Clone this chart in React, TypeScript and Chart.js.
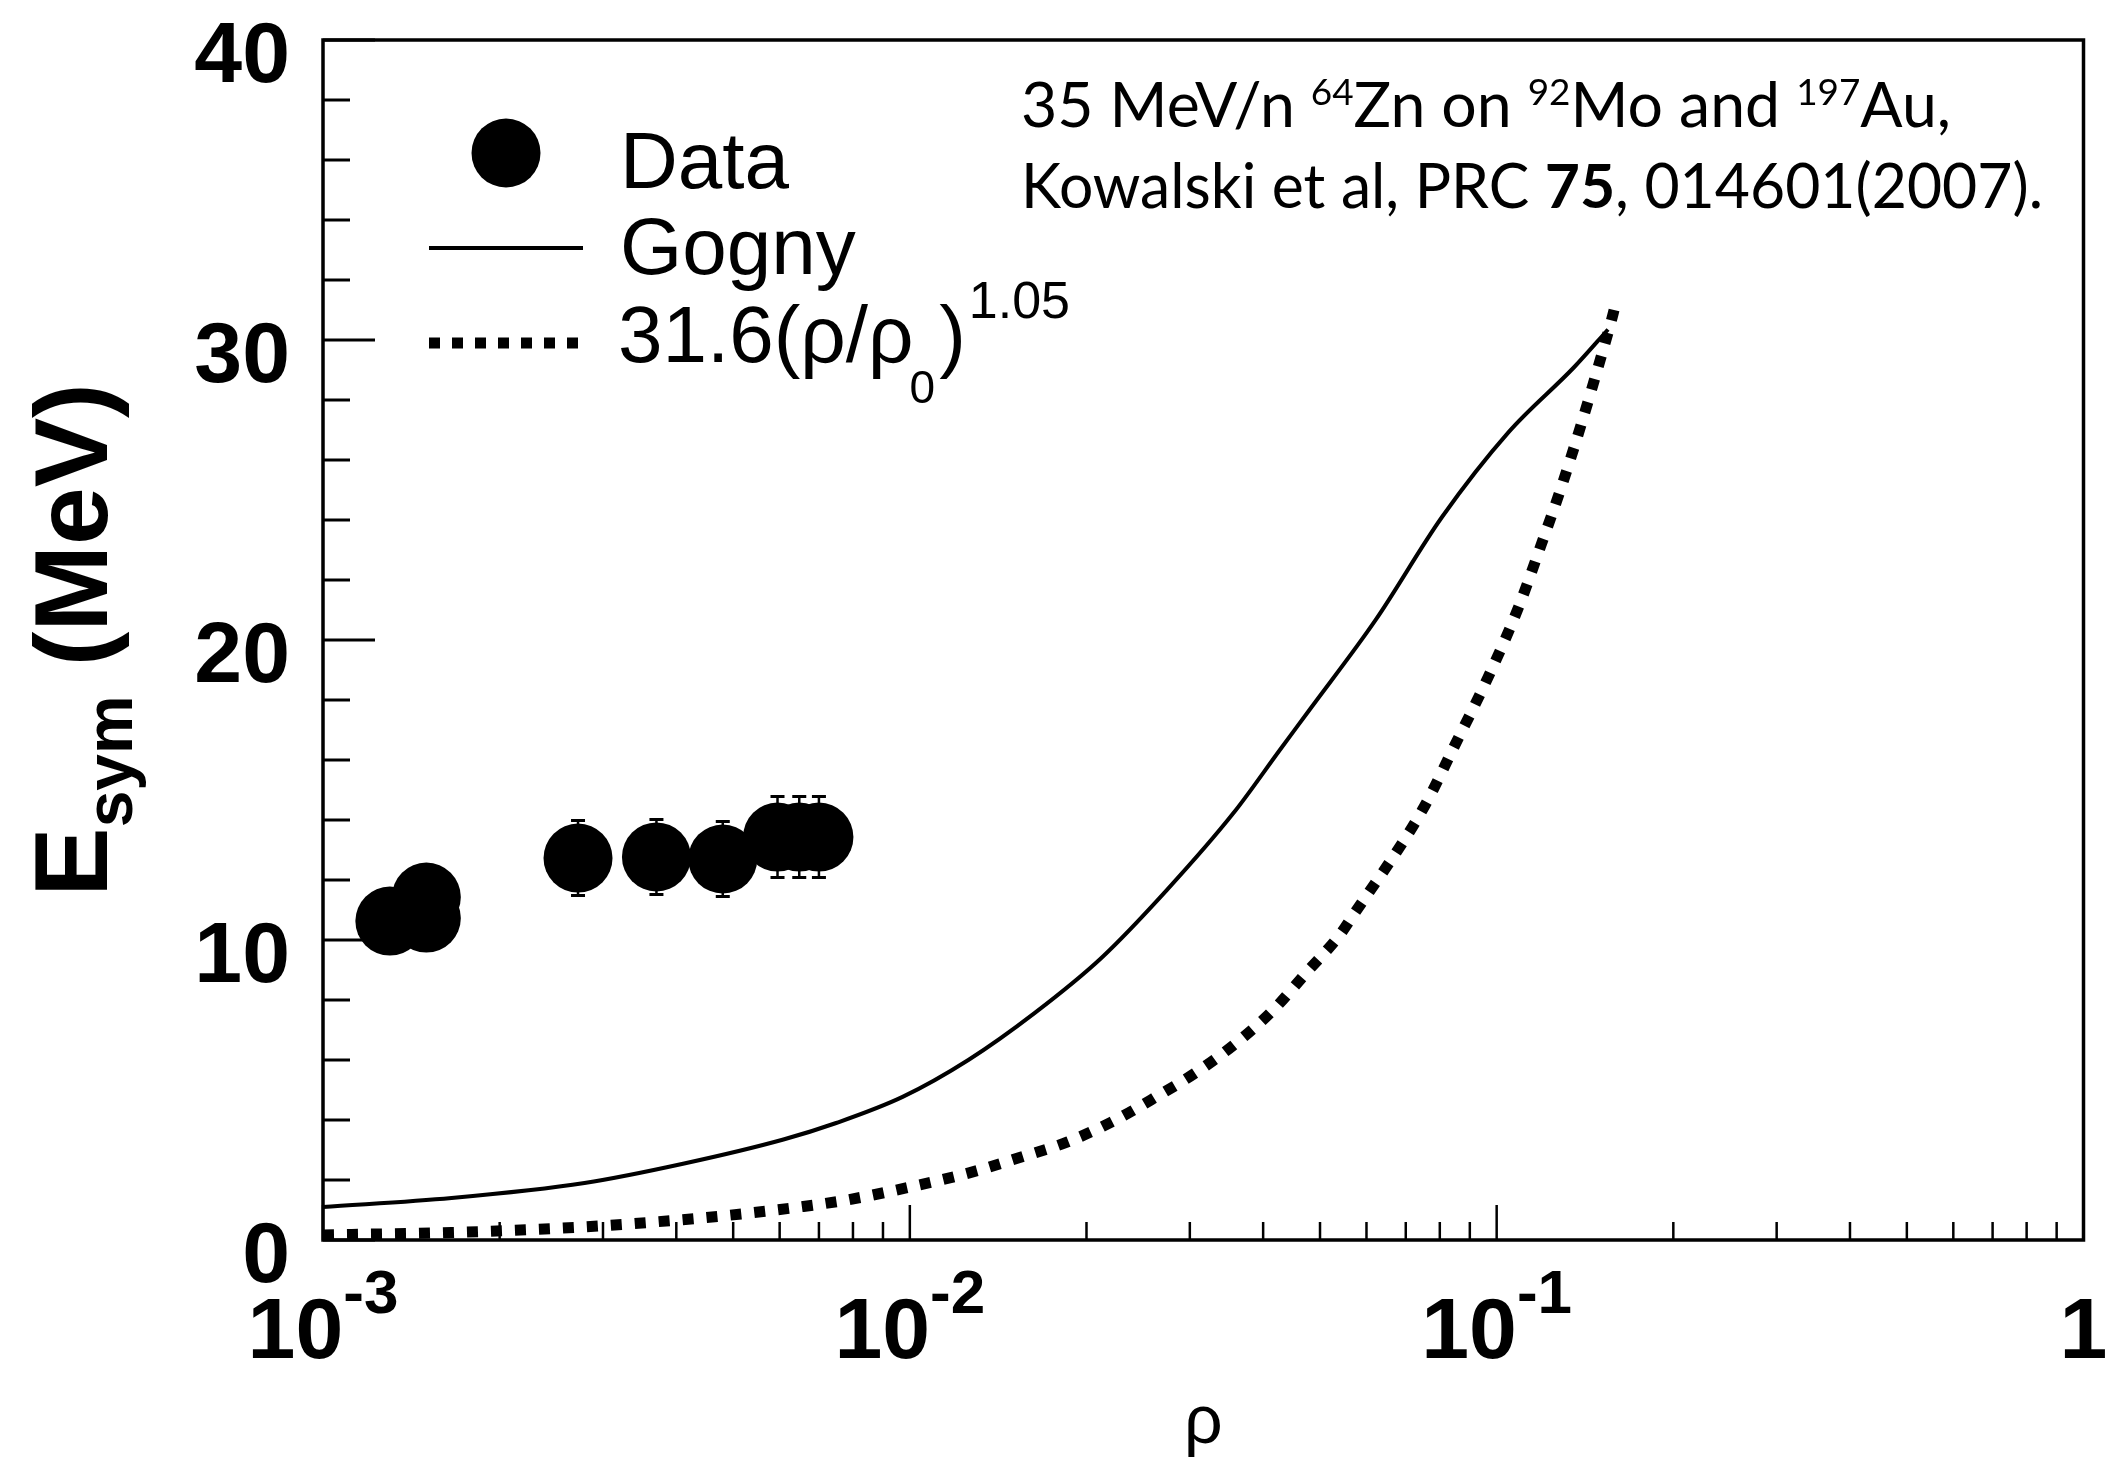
import React, { useEffect, useRef } from "react";
import { Chart, registerables } from "chart.js";

Chart.register(...registerables);

// ---------------- data ----------------
const dataRho = [0.0013, 0.0015, 0.0015, 0.00272, 0.0037, 0.0048, 0.00595, 0.00648, 0.007];
const dataEsym = [10.63, 11.43, 10.73, 12.73, 12.77, 12.7, 13.43, 13.43, 13.43];
const dataErr = [1.0, 1.0, 1.0, 1.25, 1.25, 1.25, 1.35, 1.35, 1.35];

const goganyRho = [0.001, 0.001656, 0.00279, 0.004125, 0.00609, 0.00749, 0.00972, 0.01258, 0.01633, 0.0212, 0.02743, 0.0356, 0.0428, 0.0481, 0.0622, 0.0807, 0.1048, 0.1356, 0.1548];
const goganyEsym = [1.1, 1.4, 1.9, 2.55, 3.35, 3.9, 4.77, 6.0, 7.57, 9.4, 11.67, 14.23, 16.36, 17.7, 20.67, 24.1, 26.93, 29.1, 30.35];

const powRho = [0.001, 0.001656, 0.002446, 0.002972, 0.00361, 0.00439, 0.005335, 0.00648, 0.00779, 0.01035, 0.01258, 0.01529, 0.01857, 0.02205, 0.02607, 0.03083, 0.036, 0.04163, 0.04733, 0.05404, 0.05684, 0.0747, 0.0849, 0.0969, 0.109, 0.1192, 0.1289, 0.1394, 0.1489, 0.1566, 0.1585];
const powEsym = [0.17, 0.25, 0.38, 0.47, 0.59, 0.73, 0.9, 1.1, 1.33, 1.83, 2.23, 2.73, 3.27, 3.93, 4.73, 5.6, 6.57, 7.67, 8.9, 10.17, 10.8, 14.33, 16.5, 18.8, 21.1, 23.2, 25.1, 27.2, 29.1, 30.6, 31.0];

const yTickValues = [0, 10, 20, 30, 40];
const yTickLabels = ["0", "10", "20", "30", "40"];
const xTickValues = [0.001, 0.01, 0.1, 1];
const xTickBase = ["10", "10", "10", "1"];
const xTickExp = ["-3", "-2", "-1", ""];

const legendLabels = ["Data", "Gogny"];
const formulaMain = "31.6(ρ/ρ";
const formulaSub = "0";
const formulaClose = ")";
const formulaSup = "1.05";

const yTitleMain = "E";
const yTitleSub = "sym";
const yTitleRest = " (MeV)";
const xTitle = "ρ";

// ---------------- drawing helpers ----------------
const HELV = "'Liberation Sans', Arial, Helvetica, sans-serif";
const GILL = "Lato, 'Open Sans', sans-serif";

type Seg = { t: string; font: string; dy: number };

function drawRich(ctx: CanvasRenderingContext2D, x: number, baseline: number, segs: Seg[], targetWidth: number) {
  let total = 0;
  for (const s of segs) {
    ctx.font = s.font;
    total += ctx.measureText(s.t).width;
  }
  const sx = targetWidth / total;
  ctx.save();
  ctx.translate(x, baseline);
  ctx.scale(sx, 1);
  ctx.textAlign = "left";
  ctx.textBaseline = "alphabetic";
  let cx = 0;
  for (const s of segs) {
    ctx.font = s.font;
    ctx.fillText(s.t, cx, s.dy);
    cx += ctx.measureText(s.t).width;
  }
  ctx.restore();
}

const rootStyle = {
  id: "rootStyle",
  beforeDatasetsDraw(chart: any) {
    const ctx: CanvasRenderingContext2D = chart.ctx;
    const xs = chart.scales.x;
    const ys = chart.scales.y;
    ctx.save();
    ctx.strokeStyle = "#000";
    for (let i = 0; i < dataRho.length; i++) {
      const px = xs.getPixelForValue(dataRho[i]);
      const top = ys.getPixelForValue(dataEsym[i] + dataErr[i]);
      const bot = ys.getPixelForValue(dataEsym[i] - dataErr[i]);
      ctx.lineWidth = 2.5;
      ctx.beginPath();
      ctx.moveTo(px, top);
      ctx.lineTo(px, bot);
      ctx.stroke();
      ctx.lineWidth = 3;
      ctx.beginPath();
      ctx.moveTo(px - 7, top);
      ctx.lineTo(px + 7, top);
      ctx.moveTo(px - 7, bot);
      ctx.lineTo(px + 7, bot);
      ctx.stroke();
    }
    ctx.restore();
  },
  afterDraw(chart: any) {
    const ctx: CanvasRenderingContext2D = chart.ctx;
    const xs = chart.scales.x;
    const ys = chart.scales.y;
    const a = chart.chartArea;
    ctx.save();
    ctx.strokeStyle = "#000";
    ctx.fillStyle = "#000";

    // frame
    ctx.lineWidth = 3.5;
    ctx.strokeRect(a.left, a.top, a.right - a.left, a.bottom - a.top);

    // y ticks
    ctx.lineWidth = 3;
    for (let v = 0; v <= 40; v += 2) {
      const py = ys.getPixelForValue(v);
      const len = v % 10 === 0 ? 52 : 27;
      ctx.beginPath();
      ctx.moveTo(a.left, py);
      ctx.lineTo(a.left + len, py);
      ctx.stroke();
    }
    // x ticks
    ctx.lineWidth = 2.5;
    for (let d = -3; d <= -1; d++) {
      for (let m = 1; m <= 9; m++) {
        const v = m * Math.pow(10, d);
        const px = xs.getPixelForValue(v);
        const len = m === 1 ? 35 : 18;
        ctx.beginPath();
        ctx.moveTo(px, a.bottom);
        ctx.lineTo(px, a.bottom - len);
        ctx.stroke();
      }
    }

    // y tick labels
    ctx.font = `bold 86px ${HELV}`;
    ctx.textAlign = "right";
    ctx.textBaseline = "alphabetic";
    for (let i = 0; i < yTickValues.length; i++) {
      const py = ys.getPixelForValue(yTickValues[i]);
      ctx.fillText(yTickLabels[i], a.left - 33, py + 42);
    }

    // x tick labels
    ctx.textAlign = "left";
    for (let i = 0; i < xTickValues.length; i++) {
      const px = xs.getPixelForValue(xTickValues[i]);
      ctx.font = `bold 86px ${HELV}`;
      const wb = ctx.measureText(xTickBase[i]).width;
      ctx.font = `bold 62px ${HELV}`;
      const we = xTickExp[i] ? ctx.measureText(xTickExp[i]).width : 0;
      const x0 = px - (wb + we) / 2;
      ctx.font = `bold 86px ${HELV}`;
      ctx.fillText(xTickBase[i], x0, 1358);
      if (xTickExp[i]) {
        ctx.font = `bold 62px ${HELV}`;
        ctx.fillText(xTickExp[i], x0 + wb, 1313);
      }
    }

    // x title
    ctx.font = `68px ${HELV}`;
    ctx.textAlign = "center";
    ctx.fillText(xTitle, (a.left + a.right) / 2, 1443);

    // y title (rotated)
    {
      const fMain = `bold 104px ${HELV}`;
      const fSub = `bold 66px ${HELV}`;
      ctx.font = fMain;
      const w1 = ctx.measureText(yTitleMain).width;
      const w3 = ctx.measureText(yTitleRest).width;
      ctx.font = fSub;
      const w2 = ctx.measureText(yTitleSub).width;
      const W = w1 + w2 + w3;
      ctx.save();
      ctx.translate(107, 640);
      ctx.rotate(-Math.PI / 2);
      ctx.textAlign = "left";
      let cx = -W / 2;
      ctx.font = fMain;
      ctx.fillText(yTitleMain, cx, 0);
      cx += w1;
      ctx.font = fSub;
      ctx.fillText(yTitleSub, cx, 25);
      cx += w2;
      ctx.font = fMain;
      ctx.fillText(yTitleRest, cx, 0);
      ctx.restore();
    }

    // legend
    ctx.beginPath();
    ctx.arc(506, 153, 34.5, 0, Math.PI * 2);
    ctx.fill();
    ctx.lineWidth = 4;
    ctx.setLineDash([]);
    ctx.beginPath();
    ctx.moveTo(429, 248);
    ctx.lineTo(583, 248);
    ctx.stroke();
    ctx.lineWidth = 11;
    ctx.lineCap = "butt";
    ctx.setLineDash([11, 12]);
    ctx.beginPath();
    ctx.moveTo(429, 343);
    ctx.lineTo(586, 343);
    ctx.stroke();
    ctx.setLineDash([]);

    ctx.textAlign = "left";
    ctx.font = `80px ${HELV}`;
    ctx.fillText(legendLabels[0], 620, 188);
    ctx.fillText(legendLabels[1], 620, 274);
    ctx.fillText(formulaMain, 618, 362);
    let fx = 618 + ctx.measureText(formulaMain).width - 4;
    ctx.font = `46px ${HELV}`;
    ctx.fillText(formulaSub, fx, 403);
    fx += ctx.measureText(formulaSub).width + 4;
    ctx.font = `80px ${HELV}`;
    ctx.fillText(formulaClose, fx, 362);
    fx += ctx.measureText(formulaClose).width + 3;
    ctx.font = `52px ${HELV}`;
    ctx.fillText(formulaSup, fx, 318);

    // annotation
    const fm = `61px ${GILL}`;
    const fs = `36px ${GILL}`;
    const fb = `bold 61px ${GILL}`;
    drawRich(
      ctx,
      1021,
      127,
      [
        { t: "35 MeV/n ", font: fm, dy: 0 },
        { t: "64", font: fs, dy: -22 },
        { t: "Zn on ", font: fm, dy: 0 },
        { t: "92", font: fs, dy: -22 },
        { t: "Mo and ", font: fm, dy: 0 },
        { t: "197", font: fs, dy: -22 },
        { t: "Au,", font: fm, dy: 0 },
      ],
      930
    );
    drawRich(
      ctx,
      1021,
      208,
      [
        { t: "Kowalski et al, PRC ", font: fm, dy: 0 },
        { t: "75", font: fb, dy: 0 },
        { t: ", 014601(2007).", font: fm, dy: 0 },
      ],
      1022
    );

    ctx.restore();
  },
};

export default function App() {
  const canvasRef = useRef<HTMLCanvasElement | null>(null);

  useEffect(() => {
    document.body.style.margin = "0";
    const canvas = canvasRef.current;
    if (!canvas) return;
    const chart = new Chart(canvas, {
      type: "scatter",
      data: {
        datasets: [
          {
            label: "Data",
            data: dataRho.map((x, i) => ({ x, y: dataEsym[i] })),
            showLine: false,
            pointRadius: 34.5,
            pointHoverRadius: 34.5,
            pointBackgroundColor: "#000",
            pointBorderWidth: 0,
            backgroundColor: "#000",
            borderColor: "#000",
            clip: false,
          },
          {
            label: "Gogny",
            data: goganyRho.map((x, i) => ({ x, y: goganyEsym[i] })),
            showLine: true,
            pointRadius: 0,
            borderColor: "#000",
            borderWidth: 4,
            cubicInterpolationMode: "monotone",
            clip: false,
          },
          {
            label: "31.6(ρ/ρ0)^1.05",
            data: powRho.map((x, i) => ({ x, y: powEsym[i] })),
            showLine: true,
            pointRadius: 0,
            borderColor: "#000",
            borderWidth: 11,
            borderDash: [11, 13],
            borderCapStyle: "butt",
            cubicInterpolationMode: "monotone",
            clip: false,
          },
        ],
      },
      options: {
        responsive: false,
        animation: false,
        devicePixelRatio: 1,
        events: [],
        layout: { padding: { left: 323, top: 40, right: 23, bottom: 239 } },
        scales: {
          x: { type: "logarithmic", min: 0.001, max: 1, display: false },
          y: { type: "linear", min: 0, max: 40, display: false },
        },
        plugins: { legend: { display: false }, tooltip: { enabled: false } },
      },
      plugins: [rootStyle],
    } as any);
    return () => chart.destroy();
  }, []);

  return (
    <div style={{ position: "absolute", left: 0, top: 0, width: 2118, height: 1479, background: "#fff" }}>
      <canvas ref={canvasRef} width={2118} height={1479} style={{ width: 2118, height: 1479, display: "block" }} />
    </div>
  );
}
